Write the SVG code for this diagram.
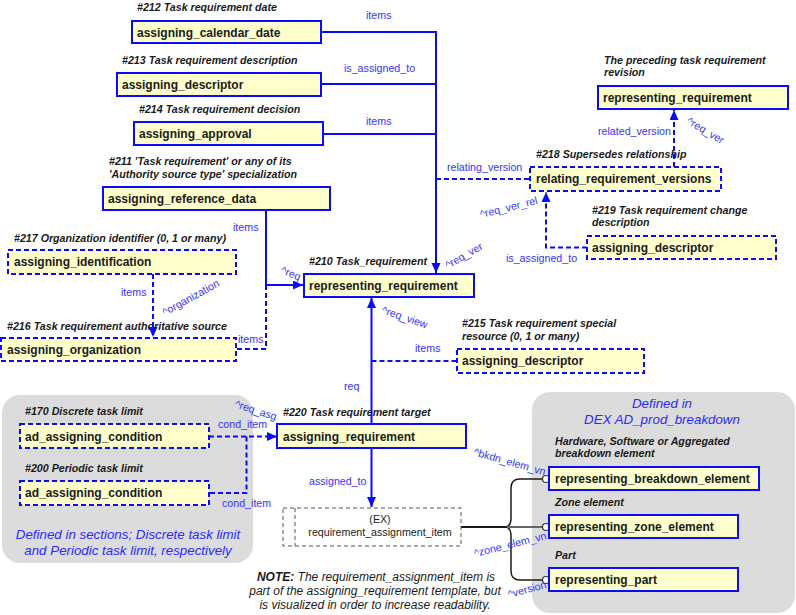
<svg xmlns="http://www.w3.org/2000/svg" width="796" height="615" viewBox="0 0 796 615">
<style>
.bx{fill:#ffffcc;stroke:#0a0aff;stroke-width:2}
.dbx{fill:#ffffcc;stroke:#0a0aff;stroke-width:2;stroke-dasharray:5,3}
.nt{font-family:"Liberation Sans",Arial,sans-serif;font-size:12px;font-weight:bold;fill:#1a1a1a}
.cap{font-family:"Liberation Sans",Arial,sans-serif;font-size:10.67px;font-weight:bold;font-style:italic;fill:#1a1a1a}
.lb{font-family:"Liberation Sans",Arial,sans-serif;font-size:10.67px;fill:#3333ff}
.bt{font-family:"Liberation Sans",Arial,sans-serif;font-size:13.33px;font-style:italic;fill:#2a2aff}
.note{font-family:"Liberation Sans",Arial,sans-serif;font-size:12px;font-style:italic;fill:#1a1a1a}
.sl{fill:none;stroke:#0a0aff;stroke-width:2}
.dl{fill:none;stroke:#0a0aff;stroke-width:2;stroke-dasharray:5,3}
</style>
<defs>
<marker id="arr" markerUnits="userSpaceOnUse" markerWidth="11" markerHeight="10" refX="10" refY="4.5" orient="auto">
<path d="M0,0 L10,4.5 L0,9 z" fill="#0a0aff"/>
</marker>
</defs>

<g id="bg-left"><rect x="2" y="395" width="251" height="168" rx="18" fill="#dcdcdc"/></g>
<g id="bg-right"><rect x="532" y="392" width="263" height="221" rx="18" fill="#dcdcdc"/></g>

<g id="n220"><rect class="bx" x="277" y="424" width="189" height="24"/><text class="nt" x="283" y="440.5">assigning_requirement</text><text class="cap" x="283" y="416">#220 Task requirement target</text></g>
<g id="n216"><text class="cap" x="7" y="329.5">#216 Task requirement authoritative source</text><rect class="dbx" x="1" y="338" width="235" height="23"/><text class="nt" x="7" y="354">assigning_organization</text></g>

<g id="connectors">
<path class="sl" d="M321,32 H436 V273" marker-end="url(#arr)"/>
<path class="sl" d="M321,84 H436"/>
<path class="sl" d="M323,134 H436"/>
<path class="dl" d="M436,179 H530"/>
<path class="dl" d="M674,167 V110" marker-end="url(#arr)"/>
<path class="dl" d="M587,247.5 H546 V192" marker-end="url(#arr)"/>
<path class="sl" d="M266,210 V285 H303" marker-end="url(#arr)"/>
<path class="dl" d="M266,285 V349 H236"/>
<path class="dl" d="M153,274 V337" marker-end="url(#arr)"/>
<path class="sl" d="M371.5,424 V298" marker-end="url(#arr)"/>
<path class="dl" d="M371.5,361 H457"/>
<path class="sl" d="M371.5,448 V507" marker-end="url(#arr)"/>
<path class="dl" d="M209,436.5 H277" marker-end="url(#arr)"/>
<path class="dl" d="M246.5,436.5 V493 H209"/>
<path d="M461,527 H507" fill="none" stroke="#1a1a1a" stroke-width="2"/>
<path d="M507,527 Q511,525 511,518 V488 Q511,479 520,479 H542.5" fill="none" stroke="#1a1a1a" stroke-width="1.5"/>
<path d="M507,527 Q511,529 511,536 V571 Q511,580 520,580 H542.5" fill="none" stroke="#1a1a1a" stroke-width="1.5"/>
<path d="M507,527 H542.5" fill="none" stroke="#666" stroke-width="2"/>
<circle cx="546" cy="479" r="3.5" fill="#fff" stroke="#333" stroke-width="1.2"/>
<circle cx="546" cy="527" r="3.5" fill="#fff" stroke="#333" stroke-width="1.2"/>
<circle cx="546" cy="580" r="3.5" fill="#fff" stroke="#333" stroke-width="1.2"/>

<text class="lb" x="366" y="19">items</text>
<text class="lb" x="344" y="71.5">is_assigned_to</text>
<text class="lb" x="366" y="124.5">items</text>
<text class="lb" x="447" y="171">relating_version</text>
<text class="lb" x="598" y="134.5">related_version</text>
<text class="lb" x="233" y="231">items</text>
<text class="lb" x="121" y="296">items</text>
<text class="lb" x="238" y="343">items</text>
<text class="lb" x="506" y="262">is_assigned_to</text>
<text class="lb" x="415" y="352">items</text>
<text class="lb" x="344" y="389.5">req</text>
<text class="lb" x="218" y="428">cond_item</text>
<text class="lb" x="222" y="507">cond_item</text>
<text class="lb" x="309" y="484.5">assigned_to</text>
<text class="lb" transform="translate(280,273) rotate(22)">^req</text>
<text class="lb" transform="translate(165,316) rotate(-29)">^organization</text>
<text class="lb" transform="translate(381,313) rotate(19)">^req_view</text>
<text class="lb" transform="translate(686,123) rotate(31)">^req_ver</text>
<text class="lb" transform="translate(481,218) rotate(-14)">^req_ver_rel</text>
<text class="lb" transform="translate(448,269) rotate(-30)">^req_ver</text>
<text class="lb" transform="translate(234,407) rotate(18)">^req_asg</text>
<text class="lb" transform="translate(473,455) rotate(16)">^bkdn_elem_vn</text>
<text class="lb" transform="translate(475,557) rotate(-14)">^zone_elem_vn</text>
<text class="lb" transform="translate(509,598) rotate(-15)">^version</text>
</g>

<g id="n212"><text class="cap" x="137" y="11">#212 Task requirement date</text><rect class="bx" x="132" y="21" width="189" height="22"/><text class="nt" x="137" y="36.5">assigning_calendar_date</text></g>
<g id="n213"><text class="cap" x="122" y="64">#213 Task requirement description</text><rect class="bx" x="117" y="73" width="204" height="23"/><text class="nt" x="122" y="89">assigning_descriptor</text></g>
<g id="n214"><text class="cap" x="139" y="113">#214 Task requirement decision</text><rect class="bx" x="134" y="122" width="189" height="23"/><text class="nt" x="139" y="138">assigning_approval</text></g>
<g id="n211"><text class="cap" x="109" y="165">#211 'Task requirement' or any of its</text><text class="cap" x="109" y="177.5">'Authority source type' specialization</text><rect class="bx" x="103" y="187" width="227" height="23"/><text class="nt" x="108" y="203">assigning_reference_data</text></g>
<g id="n217"><text class="cap" x="14" y="241.5">#217 Organization identifier (0, 1 or many)</text><rect class="dbx" x="8" y="250" width="228" height="24"/><text class="nt" x="14" y="266">assigning_identification</text></g>
<g id="n210"><text class="cap" x="309" y="264.5">#210 Task_requirement</text><rect class="bx" x="304" y="274" width="170" height="23"/><text class="nt" x="309" y="290">representing_requirement</text></g>
<g id="nprev"><text class="cap" x="604" y="64">The preceding task requirement</text><text class="cap" x="604" y="76">revision</text><rect class="bx" x="598" y="86" width="190" height="23"/><text class="nt" x="603" y="102">representing_requirement</text></g>
<g id="n218"><text class="cap" x="536" y="157.5">#218 Supersedes relationship</text><rect class="dbx" x="530" y="167" width="191" height="24"/><text class="nt" x="536" y="183">relating_requirement_versions</text></g>
<g id="n219"><text class="cap" x="592" y="214">#219 Task requirement change</text><text class="cap" x="592" y="226">description</text><rect class="dbx" x="587" y="236" width="189" height="23"/><text class="nt" x="592" y="252">assigning_descriptor</text></g>
<g id="n215"><text class="cap" x="462" y="327">#215 Task requirement special</text><text class="cap" x="462" y="340">resource (0, 1 or many)</text><rect class="dbx" x="457" y="349" width="187" height="24"/><text class="nt" x="462" y="365">assigning_descriptor</text></g>
<g id="n170"><text class="cap" x="25" y="415">#170 Discrete task limit</text><rect class="dbx" x="20" y="424" width="189" height="24"/><text class="nt" x="25" y="440.5">ad_assigning_condition</text></g>
<g id="n200"><text class="cap" x="25" y="472">#200 Periodic task limit</text><rect class="dbx" x="20" y="481" width="189" height="24"/><text class="nt" x="25" y="497">ad_assigning_condition</text></g>
<g id="nEX"><rect x="283" y="508" width="178" height="38" fill="#fff" stroke="#555" stroke-width="1" stroke-dasharray="4,3"/><line x1="295" y1="508" x2="295" y2="546" stroke="#555" stroke-width="1" stroke-dasharray="4,3"/><text class="lb" x="380" y="522.5" text-anchor="middle" style="fill:#1a1a1a">(EX)</text><text class="lb" x="380" y="536" text-anchor="middle" style="fill:#1a1a1a">requirement_assignment_item</text></g>
<g id="nbkdn"><text class="cap" x="555" y="445">Hardware, Software or Aggregated</text><text class="cap" x="555" y="457">breakdown element</text><rect class="bx" x="549" y="467" width="210" height="23"/><text class="nt" x="555" y="483">representing_breakdown_element</text></g>
<g id="nzone"><text class="cap" x="555" y="506">Zone element</text><rect class="bx" x="549" y="515" width="189" height="23"/><text class="nt" x="555" y="531">representing_zone_element</text></g>
<g id="npart"><text class="cap" x="555" y="558.5">Part</text><rect class="bx" x="549" y="568" width="189" height="23"/><text class="nt" x="555" y="584">representing_part</text></g>

<g id="texts">
<text class="bt" x="128" y="538.5" text-anchor="middle">Defined in sections; Discrete task limit</text>
<text class="bt" x="128" y="554.5" text-anchor="middle">and Periodic task limit, respectively</text>
<text class="bt" x="662" y="407.5" text-anchor="middle">Defined in</text>
<text class="bt" x="662" y="423.5" text-anchor="middle">DEX AD_prod_breakdown</text>
<text class="note" x="376" y="580.5" text-anchor="middle"><tspan font-weight="bold">NOTE:</tspan> The requirement_assignment_item is</text>
<text class="note" x="375" y="595" text-anchor="middle">part of the assigning_requirement template, but</text>
<text class="note" x="375" y="608.5" text-anchor="middle">is visualized in order to increase readability.</text>
</g>
</svg>
